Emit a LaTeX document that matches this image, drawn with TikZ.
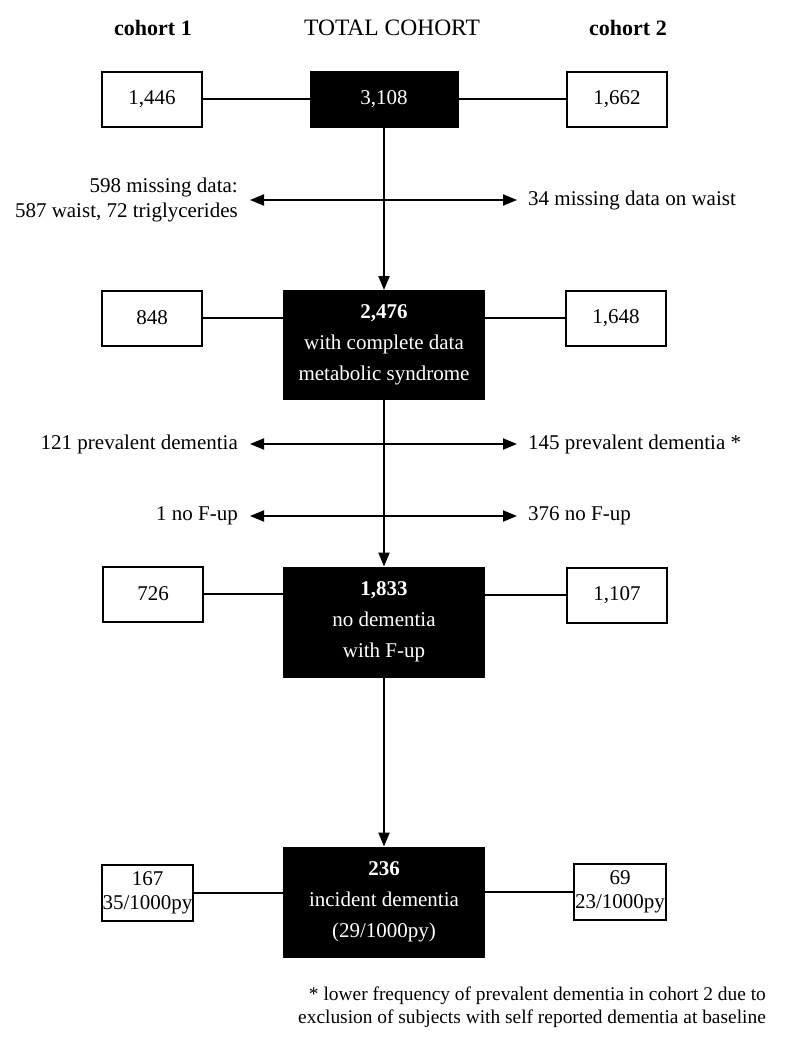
\documentclass[tikz,border=0pt]{standalone}
\usepackage{fontspec}
\setmainfont{Liberation Serif}
\usetikzlibrary{arrows.meta}
\begin{document}
\begin{tikzpicture}[x=1pt,y=-1pt,
  txt/.style={font=\fontsize{21}{25}\selectfont, inner sep=0pt},
  head/.style={font=\fontsize{22}{26}\selectfont, inner sep=0pt},
  sidebox/.style={draw, line width=2pt, minimum width=100pt, minimum height=55pt, inner sep=0pt, font=\fontsize{21}{24}\selectfont, align=center},
  mainbox/.style={draw, fill=black, text=white, line width=2pt, minimum width=200pt, minimum height=109pt, inner sep=0pt, font=\fontsize{21}{31}\selectfont, align=center},
  topbox/.style={mainbox, minimum width=147pt, minimum height=55pt},
  link/.style={line width=2pt},
  flow/.style={line width=2pt, -{Triangle[length=14pt,width=11pt]}},
  twoway/.style={line width=2pt, {Triangle[length=14pt,width=11pt]}-{Triangle[length=14pt,width=11pt]}}
]
\useasboundingbox (0,0) rectangle (790,1044);

% headers
\node[head, font=\bfseries\fontsize{22}{26}\selectfont] (h1) at (153,28) {cohort 1};
\node[head, font=\fontsize{23.5}{27}\selectfont] (h0) at (392,28) {TOTAL COHORT};
\node[head, font=\bfseries\fontsize{22}{26}\selectfont] (h2) at (628,28) {cohort 2};

% row 1
\node[topbox] (c1) at (384,99) {3,108};
\node[sidebox] (l1) at (152,99) {1,446};
\node[sidebox] (r1) at (617,99) {1,662};
\draw[link] (l1) -- (c1);
\draw[link] (c1) -- (r1);

% row 2
\node[mainbox, minimum height=108pt] (c2) at (384,345) {\textbf{2,476}\\with complete data\\metabolic syndrome};
\node[sidebox] (l2) at (152,318) {848};
\node[sidebox] (r2) at (616,318) {1,648};
\draw[link] (l2.east) -- (l2.east -| c2.west);
\draw[link] (r2.west) -- (r2.west -| c2.east);

% row 3
\node[mainbox] (c3) at (384,622) {\textbf{1,833}\\no dementia\\with F-up};
\node[sidebox] (l3) at (153,594) {726};
\node[sidebox] (r3) at (617,595) {1,107};
\draw[link] (l3.east) -- (l3.east -| c3.west);
\draw[link] (r3.west) -- (r3.west -| c3.east);

% row 4
\node[mainbox] (c4) at (384,902) {\textbf{236}\\incident dementia\\(29/1000py)};
\node[sidebox, minimum width=91pt, minimum height=56pt] (l4) at (147.5,893) {167\\35/1000py};
\node[sidebox, minimum width=92pt, minimum height=56pt] (r4) at (620,892) {69\\23/1000py};
\draw[link] (l4.east) -- (l4.east -| c4.west);
\draw[link] (r4.west) -- (r4.west -| c4.east);

% vertical flow
\draw[flow] (c1.south) -- (c2.north);
\draw[flow] (c2.south) -- (c3.north);
\draw[flow] (c3.south) -- (c4.north);

% exclusion arrows
\coordinate (a1l) at (250,200); \coordinate (a1r) at (517,200);
\coordinate (a2l) at (250,444); \coordinate (a2r) at (517,444);
\coordinate (a3l) at (250,516); \coordinate (a3r) at (517,516);
\draw[twoway] (a1l) -- (a1r);
\draw[twoway] (a2l) -- (a2r);
\draw[twoway] (a3l) -- (a3r);

\node[txt, anchor=east, align=right] (e1l) at (238,200) {598 missing data:\\587 waist, 72 triglycerides};
\node[txt, anchor=west] (e1r) at (528,200) {34 missing data on waist};
\node[txt, anchor=east] (e2l) at (238,444) {121 prevalent dementia};
\node[txt, anchor=west] (e2r) at (528,444) {145 prevalent dementia *};
\node[txt, anchor=east] (e3l) at (238,516) {1 no F-up};
\node[txt, anchor=west] (e3r) at (528,516) {376 no F-up};

% footnote
\node[txt, anchor=east, align=right, font=\fontsize{19.4}{23}\selectfont] (fn) at (766,1007.5) {* lower frequency of prevalent dementia in cohort 2 due to\\exclusion of subjects with self reported dementia at baseline};
\end{tikzpicture}
\end{document}
